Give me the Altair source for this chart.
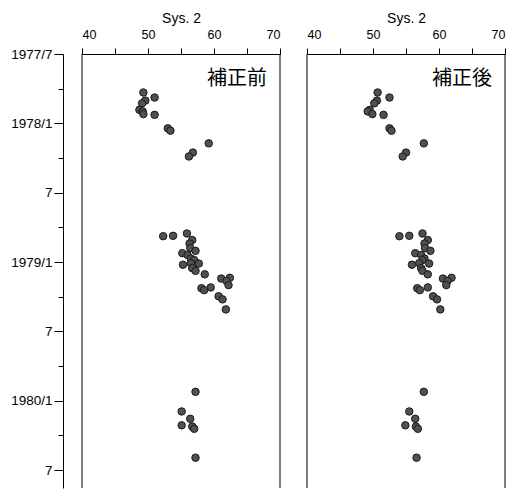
import altair as alt
import pandas as pd

# ---- data ----
dates = [
    "1977-10-11", "1977-10-24", "1977-11-02", "1977-11-09", "1977-11-26", "1977-11-30",
    "1977-12-07", "1977-12-09", "1978-01-14", "1978-01-20", "1978-02-23", "1978-03-17",
    "1978-03-27",
    "1978-10-24", "1978-10-23", "1978-10-17", "1978-11-04", "1978-11-13", "1978-11-25",
    "1978-12-02", "1978-12-08", "1978-12-13", "1978-12-22", "1978-12-26", "1979-01-05",
    "1979-01-08", "1979-01-04", "1979-01-17", "1979-01-24", "1979-02-03", "1979-02-14",
    "1979-02-12", "1979-02-20", "1979-03-01", "1979-03-09", "1979-03-14", "1979-03-07",
    "1979-03-30", "1979-04-08", "1979-05-04",
    "1979-12-08", "1980-01-29", "1980-02-18", "1980-03-05", "1980-03-08", "1980-03-14",
    "1980-05-29",
]
before = [
    49.3, 51.0, 49.6, 49.1, 48.7, 49.2, 49.3, 51.0, 53.0, 53.4, 59.2, 56.8, 56.2,
    52.3, 53.8, 55.9, 56.7, 56.3, 56.4, 57.2, 55.2, 56.0, 56.5, 57.0, 57.7, 55.3,
    56.5, 56.7, 57.2, 58.6, 61.1, 62.4, 61.9, 62.2, 58.1, 58.5, 59.5, 60.7, 61.3,
    61.8,
    57.2, 55.1, 56.4, 55.1, 56.7, 57.0, 57.2,
]
after = [
    50.7, 52.5, 50.6, 50.2, 49.5, 49.2, 49.9, 51.6, 52.5, 52.8, 57.7, 55.0, 54.5,
    54.0, 55.5, 57.5, 58.3, 57.8, 57.9, 58.7, 56.4, 57.3, 57.8, 57.5, 58.5, 55.9,
    57.0, 57.3, 57.5, 58.3, 60.6, 61.9, 61.3, 61.1, 56.7, 57.1, 58.3, 59.1, 59.7,
    60.2,
    57.7, 55.5, 56.4, 54.9, 56.5, 56.8, 56.6,
]
panel_names = ["補正前", "補正後"]
x_title = "Sys. 2"
x_domain = [40, 70]
x_ticks = [40, 45, 50, 55, 60, 65, 70]
y_tick_labels = ["1977/7", "", "1978/1", "", "7", "", "1979/1", "", "7", "", "1980/1", "", "7"]


def month_offset(s):
    y, mo, d = map(int, s.split("-"))
    return (y - 1977) * 12 + (mo - 7) + (d - 1) / 30.0


W, H = 198, 434
Y_END = H / 11.556  # months shown from 1977/7 downward

label_expr = "[" + ",".join(f"'{s}'" for s in y_tick_labels) + "][round(datum.value/3)]"


def panel(name, vals, show_y):
    df = pd.DataFrame({"date": dates, "m": [month_offset(s) for s in dates], "v": vals})
    xs = alt.Scale(domain=x_domain, nice=False, zero=False)
    ys = alt.Scale(domain=[0, Y_END], reverse=True, nice=False, zero=False)
    xaxis = alt.Axis(
        orient="top", title=x_title, values=x_ticks,
        labelExpr="datum.value % 10 == 0 ? datum.label : ''",
        tickSize=6, labelPadding=7, labelFontSize=12.5, labelFont="Liberation Sans",
        titleFontSize=14, titleFont="Liberation Sans", titleFontWeight="normal",
        titlePadding=3, grid=False, domainColor="black", tickColor="black",
        labelColor="black", titleColor="black",
    )
    if show_y:
        yaxis = alt.Axis(
            values=list(range(0, 37, 3)), labelExpr=label_expr, title=None, offset=19,
            grid=False, tickSize={"condition": {"test": "datum.value % 6 == 0", "value": 9}, "value": 5},
            labelFontSize=13.5, labelFont="Liberation Sans", labelPadding=2,
            domainColor="black", tickColor="black", labelColor="black",
        )
        yenc = alt.Y("m:Q", scale=ys, axis=yaxis)
    else:
        yenc = alt.Y("m:Q", scale=ys, axis=None)
    xenc = alt.X("v:Q", scale=xs, axis=xaxis)

    pts = alt.Chart(df).mark_circle(
        size=56, color="#505050", stroke="#1a1a1a", strokeWidth=1, opacity=1
    ).encode(x=xenc, y=yenc)
    frame = alt.Chart(pd.DataFrame({"v": x_domain})).mark_rule(
        color="black", strokeWidth=1
    ).encode(x=xenc)
    label = alt.Chart(pd.DataFrame({"t": [name]})).mark_text(
        align="right", baseline="middle", fontSize=20, font="Noto Sans CJK JP", color="black"
    ).encode(x=alt.value(W - 13), y=alt.value(25), text="t:N")
    return alt.layer(frame, pts, label).properties(width=W, height=H)


chart = alt.hconcat(
    panel(panel_names[0], before, True),
    panel(panel_names[1], after, False),
    spacing=25,
).configure_view(stroke=None).properties(
    padding={"left": 2, "top": 3, "right": 0, "bottom": 0},
    background="white",
)

chart.save("out.html", embed_options={"renderer": "svg", "actions": False})
